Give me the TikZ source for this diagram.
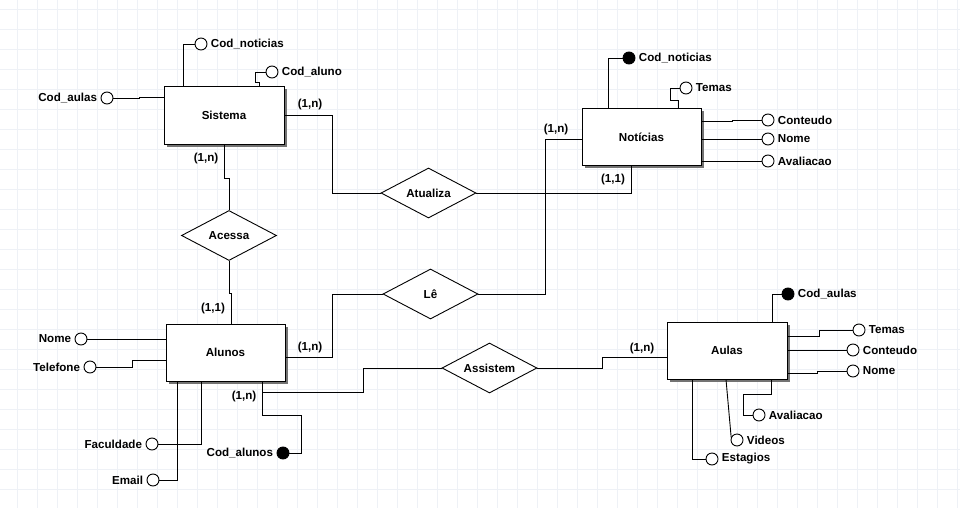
\documentclass[tikz,border=0pt]{standalone}
\usepackage{fontspec}
\setmainfont{Liberation Sans}
\usetikzlibrary{positioning,shapes.geometric,shadows}
\definecolor{gridc}{RGB}{238,241,246}

\begin{document}
\begin{tikzpicture}[x=1pt, y=-1pt,
  every node/.style={font=\fontsize{11.6}{13}\selectfont\bfseries},
  ent/.style={draw, fill=white, minimum width=120pt, minimum height=57pt, line width=1pt, drop shadow={shadow xshift=2.5pt, shadow yshift=-2.5pt, fill=black!55, opacity=1}},
  rel/.style={draw, diamond, aspect=1.9, inner sep=0pt, minimum width=95pt, minimum height=50pt, fill=white, line width=0.9pt},
  att/.style={draw, circle, minimum size=12pt, inner sep=0pt, fill=white, line width=0.9pt, label distance=1.5pt},
  key/.style={att, fill=black},
  card/.style={inner sep=0pt},
  conn/.style={line width=0.9pt},
  gridline/.style={draw=gridc, line width=0.9pt, step=20pt}
]
\useasboundingbox[fill=white] (0,0) rectangle (960,508);
\begin{scope}
\clip (0,0) rectangle (960,508);
\draw[gridline, xshift=17.5pt, yshift=-9.5pt] (-40,540) grid (980,-40);
\end{scope}

\node[ent] (sis) at (224,115.5) {Sistema};
\node[ent, minimum width=119pt, minimum height=56pt] (noti) at (641.5,137) {Notícias};
\node[ent, minimum width=119pt] (alu) at (225.5,352.5) {Alunos};
\node[ent] (aul) at (727,350.5) {Aulas};

\node[rel] (atu) at (428.5,193) {Atualiza};
\node[rel] (acs) at (229,235.5) {Acessa};
\node[rel] (le) at (430.5,294) {Lê};
\node[rel] (asi) at (489.5,368) {Assistem};

\node[att, label=right:Cod\_noticias] (sisnot) at (201,44) {};
\node[att, label=right:Cod\_aluno] (sisalu) at (272,72) {};
\node[att, label=left:Cod\_aulas] (sisaul) at (107,98) {};
\node[key, label=right:Cod\_noticias] (notcod) at (629,58) {};
\node[att, label=right:Temas] (nottem) at (686,88) {};
\node[att, label=right:Conteudo] (notcon) at (768,120) {};
\node[att, label=right:Nome] (notnom) at (768,139) {};
\node[att, label=right:Avaliacao] (notava) at (768,161) {};
\node[att, label=left:Nome] (alunom) at (81,339) {};
\node[att, label=left:Telefone] (alutel) at (90,367) {};
\node[att, label=left:Faculdade] (alufac) at (152,444) {};
\node[att, label=left:Email] (aluema) at (153,480) {};
\node[key, label=left:Cod\_alunos] (alucod) at (283,453) {};
\node[key, label=right:Cod\_aulas] (aulcod) at (788,294) {};
\node[att, label=right:Temas] (aultem) at (859,330) {};
\node[att, label=right:Conteudo] (aulcon) at (853,350) {};
\node[att, label=right:Nome] (aulnom) at (853,371) {};
\node[att, label=right:Avaliacao] (aulava) at (759,415) {};
\node[att, label=right:Videos] (aulvid) at (737,440) {};
\node[att, label=right:Estagios] (aulest) at (712,459) {};

\node[card] (c1) at (310,105) {(1,n)};
\node[card] (c2) at (556,130) {(1,n)};
\node[card] (c3) at (613,179) {(1,1)};
\node[card] (c4) at (206,159) {(1,n)};
\node[card] (c5) at (213,308) {(1,1)};
\node[card] (c6) at (310,347) {(1,n)};
\node[card] (c7) at (244,396) {(1,n)};
\node[card] (c8) at (642,348) {(1,n)};

\draw[conn] (sis.east) -- ++(48,0) |- (atu.west);
\draw[conn] (atu.east) -| ([xshift=-10.5pt]noti.south);
\draw[conn] ([yshift=-2pt]noti.west) -- ++(-36,0) |- (le.east);
\draw[conn] (le.west) -- ++(-50,0) |- ([yshift=-4.5pt]alu.east);
\draw[conn] (sis.south) -- ++(0,34) -| (acs.north);
\draw[conn] (acs.south) -- ++(0,32) -| ([xshift=5.5pt]alu.north);
\draw[conn] ([xshift=36.5pt]alu.south) -- ++(0,11) -- ++(101,0) |- (asi.west);
\draw[conn] (asi.east) -- ++(65,0) |- ([yshift=-6.5pt]aul.west);

\draw[conn] (sisnot.west) -| ([xshift=20pt]sis.north west);
\draw[conn] ([xshift=96pt]sis.north west) -- ++(0,-4) -- ++(-4,0) |- (sisalu.west);
\draw[conn] (sisaul.east) -- ++(26,0) |- ([yshift=18.5pt]sis.west);

\draw[conn] ([xshift=-33.5pt]noti.north) |- (notcod.west);
\draw[conn] ([xshift=36.5pt]noti.north) -- ++(0,-8) -- ++(-8,0) |- (nottem.west);
\draw[conn] ([yshift=16pt]noti.east) -- ++(31,0) |- (notcon.west);
\draw[conn] (noti.east |- notnom) -- (notnom.west);
\draw[conn] (noti.east |- notava) -- (notava.west);

\draw[conn] (alunom.east) -- (alu.west |- alunom);
\draw[conn] (alutel.east) -- ++(36,0) |- ([yshift=-7.5pt]alu.west);
\draw[conn] (alufac.east) -| ([xshift=-24.5pt]alu.south);
\draw[conn] (aluema.east) -| ([xshift=-48.5pt]alu.south);
\draw[conn] ([xshift=36.5pt]alu.south) -- ++(0,34) -- ++(39,0) |- (alucod.east);

\draw[conn] ([xshift=45pt]aul.north) |- (aulcod.west);
\draw[conn] ([yshift=14.5pt]aul.east) -- ++(32,0) |- (aultem.west);
\draw[conn] (aul.east |- aulcon) -- (aulcon.west);
\draw[conn] ([yshift=-22.5pt]aul.east) -- ++(30,0) |- (aulnom.west);
\draw[conn] ([xshift=44pt]aul.south) -- ++(0,15) -- ++(-28,0) |- (aulava.west);
\draw[conn] ([xshift=-1pt]aul.south) -- (aulvid.155);
\draw[conn] ([xshift=-35pt]aul.south) |- (aulest.west);
\end{tikzpicture}
\end{document}
